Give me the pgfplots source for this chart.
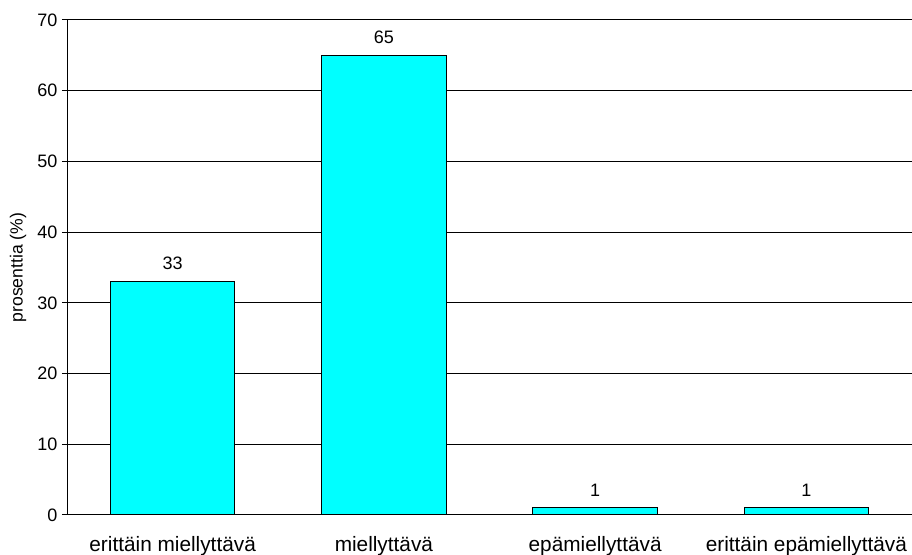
\documentclass[border=0pt]{standalone}
\usepackage{fontspec}
\setmainfont{Liberation Sans}
\usepackage{pgfplots}
\pgfplotsset{compat=1.18}
\begin{document}
\begin{tikzpicture}
\begin{axis}[
  scale only axis,
  width=633.75pt, height=371.25pt,
  ymin=0, ymax=70,
  xmin=-0.5, xmax=3.5,
  ytick={0,10,...,70},
  ymajorgrids,
  grid style={black, line width=0.75pt},
  axis x line=bottom, axis y line=left,
  axis line style={-, black, line width=0.75pt},
  tick align=outside,
  major tick length=3.75pt,
  tick style={black, line width=0.75pt},
  xtick={0,1,2,3},
  xticklabels={erittäin miellyttävä, miellyttävä, epämiellyttävä, erittäin epämiellyttävä},
  x tick style={draw=none},
  extra x ticks={-0.5,0.5,1.5,2.5,3.5},
  extra x tick labels={},
  extra x tick style={tick style={draw=black, line width=0.75pt}, major tick length=3.75pt},
  x tick label style={font=\fontsize{15.6}{18}\selectfont, yshift=-9pt},
  y tick label style={font=\fontsize{13.5}{16}\selectfont},
  /pgf/number format/assume math mode=true,
  ylabel={prosenttia (\%)},
  ylabel style={font=\fontsize{13.2}{16}\selectfont, at={(axis description cs:-0.058,0.5)}, anchor=center, rotate=0},
  nodes near coords,
  every node near coord/.append style={font=\fontsize{13.5}{16}\selectfont, inner sep=0pt, yshift=8.25pt, /pgf/number format/assume math mode=true},
  clip=false,
]
\addplot[ybar, bar width=0.59, fill={rgb,255:red,0;green,255;blue,255}, draw=black, line width=0.75pt]
  coordinates {(0,33) (1,65) (2,1) (3,1)};
\coordinate (ll) at (rel axis cs:0,0);
\coordinate (ur) at (rel axis cs:1,1);
\end{axis}
\pgfresetboundingbox
\path ([xshift=-50.25pt,yshift=-30pt]ll) rectangle ([yshift=15pt]ur);
\end{tikzpicture}
\end{document}
